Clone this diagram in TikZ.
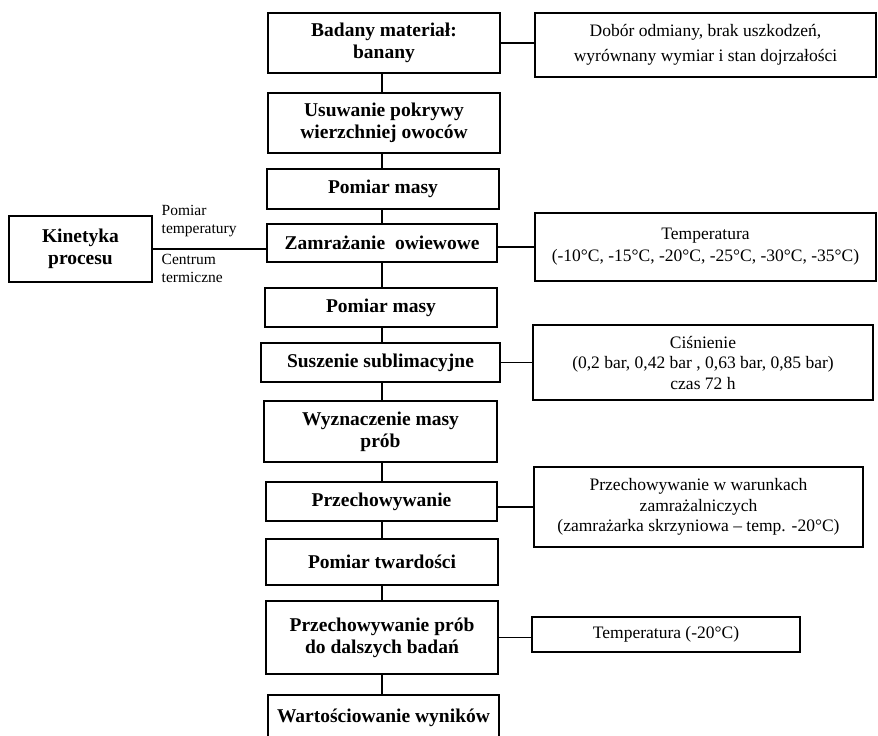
\documentclass[tikz,border=0pt]{standalone}
\usepackage{fontspec}
\setmainfont{Liberation Serif}
\begin{document}
\begin{tikzpicture}[x=1pt,y=-1pt,
  line width=1.4pt,
  mainbox/.style={draw, line width=1.4pt, inner sep=0pt, align=center,
    font=\fontsize{19.5}{22}\selectfont\bfseries},
  sidebox/.style={draw, line width=1.4pt, inner sep=0pt, align=center,
    font=\fontsize{17.5}{20.5}\selectfont},
  lbl/.style={inner sep=0pt, align=left, anchor=west,
    font=\fontsize{15.5}{18}\selectfont},
  conn/.style={draw, line width=1.4pt}]
\useasboundingbox (0,0) rectangle (878,736);

\node[mainbox, minimum width=232pt, minimum height=60pt] (b1) at (384,43) {Badany materiał:\\banany};
\node[sidebox, minimum width=341pt, minimum height=64pt, font=\fontsize{17.5}{25}\selectfont] (r1) at (705.5,45) {Dobór odmiany, brak uszkodzeń,\\wyrównany wymiar i stan dojrzałości};
\node[mainbox, minimum width=232pt, minimum height=60pt] (b2) at (384,123) {Usuwanie pokrywy\\wierzchniej owoców};
\node[mainbox, minimum width=232pt, minimum height=40pt] (b3) at (383,189) {Pomiar masy};
\node[mainbox, minimum width=230pt, minimum height=38pt] (b4) at (382,243) {Zamrażanie\ \ owiewowe};
\node[mainbox, minimum width=143pt, minimum height=66pt] (kin) at (80.5,249) {Kinetyka\\procesu};
\node[sidebox, minimum width=341pt, minimum height=68pt, font=\fontsize{17.5}{22}\selectfont] (r4) at (705.5,247) {Temperatura\\(-10°C, -15°C, -20°C, -25°C, -30°C, -35°C)};
\node[lbl] (l1) at (161,221) {Pomiar\\temperatury};
\node[lbl] (l2) at (161,268.5) {Centrum\\termiczne};
\node[mainbox, minimum width=232pt, minimum height=39pt] (b5) at (381,307.5) {Pomiar masy};
\node[mainbox, minimum width=239pt, minimum height=39pt] (b6) at (380.5,362.5) {Suszenie sublimacyjne};
\node[sidebox, minimum width=340pt, minimum height=75pt] (r6) at (703,362.5) {Ciśnienie\\(0,2 bar, 0,42 bar , 0,63 bar, 0,85 bar)\\czas 72 h};
\node[mainbox, minimum width=233pt, minimum height=61pt] (b7) at (380.5,431.5) {Wyznaczenie masy\\prób};
\node[mainbox, minimum width=231pt, minimum height=39pt] (b8) at (381.5,501.5) {Przechowywanie};
\node[sidebox, minimum width=329pt, minimum height=80pt] (r8) at (698.5,507) {Przechowywanie w warunkach\\zamrażalniczych\\(zamrażarka skrzyniowa -- temp. -20°C)};
\node[mainbox, minimum width=232pt, minimum height=46pt] (b9) at (382,562) {Pomiar twardości};
\node[mainbox, minimum width=232pt, minimum height=73pt] (b10) at (382,637.5) {Przechowywanie prób\\do dalszych badań};
\node[sidebox, minimum width=268pt, minimum height=35pt] (r10) at (666,634.5) {Temperatura (-20°C)};
\node[mainbox, minimum width=231pt, minimum height=45pt] (b11) at (383.5,717.5) {Wartościowanie wyników};

\coordinate (sp) at (382,0);
\draw[conn] (b1.south -| sp) -- (b2.north -| sp);
\draw[conn] (b2.south -| sp) -- (b3.north -| sp);
\draw[conn] (b3.south -| sp) -- (b4.north -| sp);
\draw[conn] (b4.south -| sp) -- (b5.north -| sp);
\draw[conn] (b5.south -| sp) -- (b6.north -| sp);
\draw[conn] (b6.south -| sp) -- (b7.north -| sp);
\draw[conn] (b7.south -| sp) -- (b8.north -| sp);
\draw[conn] (b8.south -| sp) -- (b9.north -| sp);
\draw[conn] (b9.south -| sp) -- (b10.north -| sp);
\draw[conn] (b10.south -| sp) -- (b11.north -| sp);

\draw[conn] (b1.east) -- (b1.east -| r1.west);
\draw[conn] (kin.east) -- (kin.east -| b4.west);
\draw[conn] (r4.west -| b4.east) -- (r4.west);
\draw[conn] (b6.east) -- (b6.east -| r6.west);
\draw[conn] (r8.west -| b8.east) -- (r8.west);
\draw[conn] (b10.east) -- (b10.east -| r10.west);
\end{tikzpicture}
\end{document}
